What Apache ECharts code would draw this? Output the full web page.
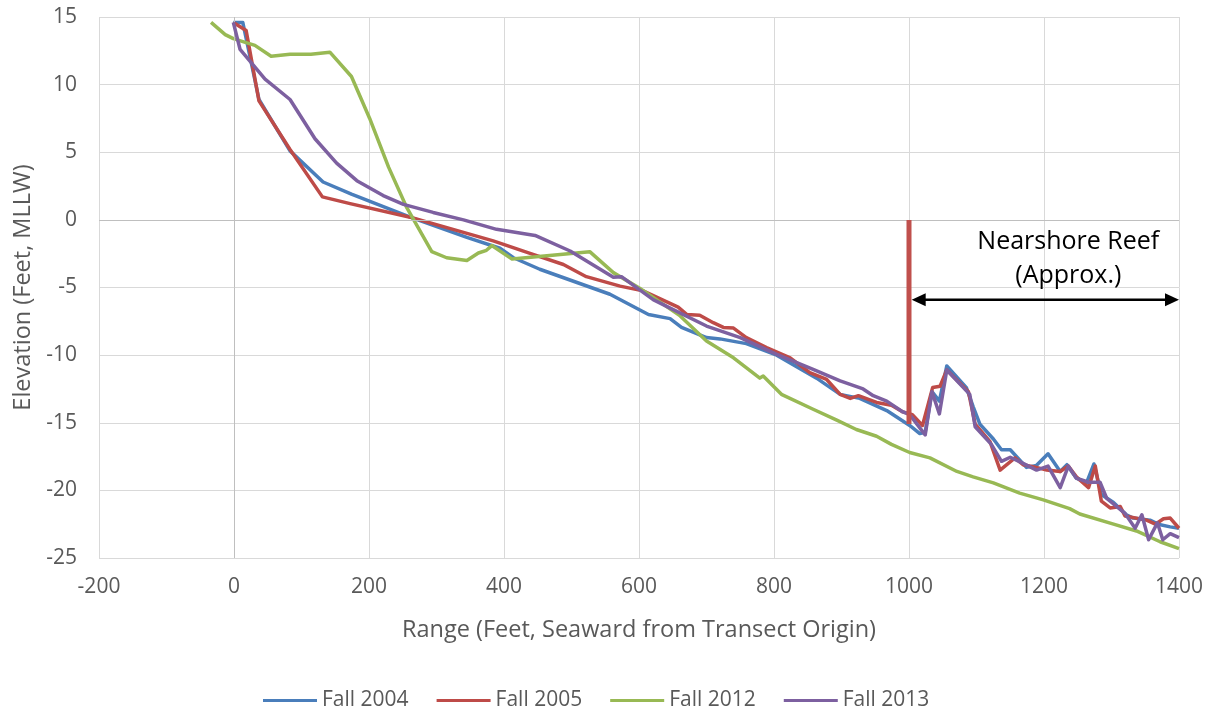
<!DOCTYPE html>
<html>
<head>
<meta charset="utf-8">
<script src="https://cdn.jsdelivr.net/npm/echarts@6/dist/echarts.min.js"></script>
<style>
html,body{margin:0;padding:0;background:#fff;}
#chart{width:1217px;height:719px;}
</style>
</head>
<body>
<div id="chart"></div>
<script>
// ---- Data ----
const seriesNames = ['Fall 2004', 'Fall 2005', 'Fall 2012', 'Fall 2013'];

const fall2004X = [-1, 13, 37, 83, 132, 174, 261, 345, 394, 414, 453, 557, 614, 646, 663, 700, 720, 759, 804, 863, 898, 927, 967, 1001, 1016, 1024, 1034, 1045, 1056, 1085, 1095, 1105, 1125, 1137, 1150, 1174, 1189, 1206, 1224, 1234, 1248, 1263, 1274, 1285, 1303, 1322, 1332, 1357, 1369, 1387, 1400];
const fall2004Y = [14.6, 14.6, 8.9, 5.1, 2.8, 1.9, 0.2, -1.3, -2.1, -2.8, -3.65, -5.5, -7.0, -7.3, -7.95, -8.7, -8.8, -9.15, -10.0, -11.7, -12.9, -13.2, -14.1, -15.2, -15.8, -15.7, -12.7, -13.4, -10.8, -12.4, -13.8, -15.1, -16.2, -17.0, -17.0, -18.3, -18.15, -17.3, -18.6, -18.1, -19.1, -19.45, -18.05, -20.3, -20.9, -21.8, -22.05, -22.2, -22.5, -22.7, -22.8];

const fall2005X = [-1, 18, 37, 83, 131, 172, 261, 384, 443, 488, 522, 572, 606, 658, 671, 690, 710, 725, 740, 759, 789, 824, 853, 878, 898, 913, 925, 952, 974, 991, 1005, 1020, 1035, 1046, 1056, 1088, 1098, 1120, 1135, 1157, 1169, 1189, 1204, 1224, 1236, 1248, 1266, 1276, 1285, 1298, 1313, 1320, 1352, 1365, 1377, 1387, 1400];
const fall2005Y = [14.6, 14.0, 8.8, 5.2, 1.7, 1.2, 0.2, -1.55, -2.55, -3.3, -4.2, -4.9, -5.25, -6.45, -7.0, -7.05, -7.6, -7.95, -8.0, -8.7, -9.45, -10.2, -11.3, -11.8, -12.9, -13.2, -13.0, -13.5, -13.7, -14.2, -14.4, -15.2, -12.4, -12.3, -11.1, -12.7, -15.1, -16.4, -18.5, -17.6, -18.1, -18.3, -18.5, -18.6, -18.2, -19.0, -19.8, -18.2, -20.8, -21.3, -21.2, -21.9, -22.2, -22.5, -22.1, -22.05, -22.8];

const fall2012X = [-34, -13, -1, 31, 55, 83, 114, 142, 174, 201, 229, 256, 293, 315, 345, 362, 374, 382, 412, 527, 562, 601, 661, 700, 740, 779, 784, 811, 858, 893, 922, 952, 974, 1001, 1031, 1071, 1095, 1125, 1164, 1199, 1238, 1253, 1303, 1337, 1372, 1400];
const fall2012Y = [14.6, 13.7, 13.4, 12.9, 12.1, 12.25, 12.25, 12.4, 10.6, 7.5, 3.9, 0.9, -2.35, -2.8, -3.0, -2.45, -2.25, -1.9, -2.9, -2.35, -3.9, -5.05, -7.1, -8.95, -10.2, -11.7, -11.55, -12.9, -14.0, -14.8, -15.5, -16.0, -16.6, -17.2, -17.6, -18.6, -19.0, -19.45, -20.2, -20.7, -21.35, -21.75, -22.5, -23.0, -23.8, -24.3];

const fall2013X = [-1, 9, 46, 83, 120, 152, 182, 221, 251, 295, 340, 389, 446, 498, 562, 574, 621, 641, 700, 750, 804, 858, 898, 932, 947, 967, 991, 1001, 1024, 1034, 1045, 1056, 1090, 1098, 1122, 1137, 1150, 1169, 1189, 1206, 1224, 1236, 1248, 1266, 1283, 1293, 1320, 1335, 1345, 1355, 1368, 1376, 1387, 1400];
const fall2013Y = [14.6, 12.6, 10.4, 8.9, 6.0, 4.2, 2.9, 1.8, 1.15, 0.55, 0.0, -0.7, -1.15, -2.3, -4.25, -4.2, -5.9, -6.4, -7.85, -8.7, -9.95, -11.05, -11.9, -12.5, -13.0, -13.4, -14.2, -14.4, -15.9, -12.7, -14.35, -11.1, -12.9, -15.3, -16.6, -17.85, -17.55, -18.0, -18.5, -18.2, -19.8, -18.2, -19.1, -19.4, -19.4, -20.6, -21.7, -22.8, -21.8, -23.65, -22.4, -23.65, -23.2, -23.5];

// reef marker & annotation
const reefMarkerX = [1000, 1000];
const reefMarkerY = [0, -15.1];
const reefArrowX = [1004, 1400];   // arrow tips
const reefArrowY = -5.9;
const reefLabelLines = ['Nearshore Reef', '(Approx.)'];
const reefLabelX = 1236;
const reefLabelY = [-1.65, -4.15];

const xTicks = { min: -200, max: 1400, interval: 200 };
const yTicks = { min: -25, max: 15, interval: 5 };

const colors = ['#4A7EBB', '#BE4B48', '#98B954', '#7D60A0'];

// ---- Build ----
function pairs(xs, ys) { return xs.map((x, i) => [x, ys[i]]); }
const seriesData = [pairs(fall2004X, fall2004Y), pairs(fall2005X, fall2005Y), pairs(fall2012X, fall2012Y), pairs(fall2013X, fall2013Y)];

const FONT = 'Open Sans';
const chart = echarts.init(document.getElementById('chart'), null, { renderer: 'canvas' });

const ARROW_HEAD = 14; // px length of arrow head
const series = [];
series.push({
  name: 'zeroAxes', type: 'line', data: [], z: 1, silent: true,
  markLine: {
    silent: true, symbol: ['none', 'none'], animation: false,
    label: { show: false },
    lineStyle: { color: '#BFBFBF', width: 1, type: 'solid' },
    data: [{ xAxis: 0 }, { yAxis: 0 }]
  }
});
seriesNames.forEach((n, i) => {
  series.push({
    name: n, type: 'line', data: seriesData[i], showSymbol: false, symbol: 'none',
    lineStyle: { color: colors[i], width: 3.5, join: 'round' }, itemStyle: { color: colors[i] },
    z: 2 + i, animation: false
  });
});
series.push({
  name: 'reefMarker', type: 'line', data: pairs(reefMarkerX, reefMarkerY), showSymbol: false, symbol: 'none',
  lineStyle: { color: '#C0504D', width: 5 },
  itemStyle: { color: '#C0504D' },
  z: 10, animation: false, silent: true
});

chart.setOption({
  animation: false,
  backgroundColor: '#fff',
  textStyle: { fontFamily: FONT },
  grid: { left: 99, right: 38, top: 17, bottom: 161, containLabel: false },
  legend: {
    data: seriesNames, left: 258, top: 685, icon: 'rect', itemWidth: 54, itemHeight: 3, itemGap: 28,
    textStyle: { fontFamily: FONT, fontSize: 21, color: '#595959' }
  },
  xAxis: {
    type: 'value', min: xTicks.min, max: xTicks.max, interval: xTicks.interval,
    name: 'Range (Feet, Seaward from Transect Origin)', nameLocation: 'middle', nameGap: 60,
    nameTextStyle: { fontFamily: FONT, fontSize: 23.5, color: '#595959' },
    axisLine: { show: false }, axisTick: { show: false },
    axisLabel: { fontFamily: FONT, fontSize: 21, color: '#595959', margin: 19, formatter: v => String(v) },
    splitLine: { show: true, lineStyle: { color: '#D9D9D9', width: 1 } }
  },
  yAxis: {
    type: 'value', min: yTicks.min, max: yTicks.max, interval: yTicks.interval,
    name: 'Elevation (Feet, MLLW)', nameLocation: 'middle', nameGap: 64, nameRotate: 90,
    nameTextStyle: { fontFamily: FONT, fontSize: 23.5, color: '#595959' },
    axisLine: { show: false }, axisTick: { show: false },
    axisLabel: { fontFamily: FONT, fontSize: 21, color: '#595959', margin: 22, formatter: v => String(v) },
    splitLine: { show: true, lineStyle: { color: '#D9D9D9', width: 1 } }
  },
  series: series
});

// annotation (arrow + text) placed through the chart's own scales
const pL = chart.convertToPixel({ gridIndex: 0 }, [reefArrowX[0], reefArrowY]);
const pR = chart.convertToPixel({ gridIndex: 0 }, [reefArrowX[1], reefArrowY]);
const graphics = [
  { type: 'line', z: 100, shape: { x1: pL[0] + ARROW_HEAD - 2, y1: pL[1], x2: pR[0] - ARROW_HEAD + 2, y2: pR[1] },
    style: { stroke: '#000', lineWidth: 2.5 } },
  { type: 'polygon', z: 100, shape: { points: [[pL[0], pL[1]], [pL[0] + ARROW_HEAD, pL[1] - 6.5], [pL[0] + ARROW_HEAD, pL[1] + 6.5]] },
    style: { fill: '#000' } },
  { type: 'polygon', z: 100, shape: { points: [[pR[0], pR[1]], [pR[0] - ARROW_HEAD, pR[1] - 6.5], [pR[0] - ARROW_HEAD, pR[1] + 6.5]] },
    style: { fill: '#000' } }
];
reefLabelLines.forEach((t, i) => {
  const p = chart.convertToPixel({ gridIndex: 0 }, [reefLabelX, reefLabelY[i]]);
  graphics.push({
    type: 'text', x: p[0], y: p[1], z: 100,
    style: { text: t, fontFamily: FONT, fontSize: 25, fill: '#000', align: 'center', verticalAlign: 'middle' }
  });
});
chart.setOption({ graphic: graphics });
</script>
</body>
</html>
